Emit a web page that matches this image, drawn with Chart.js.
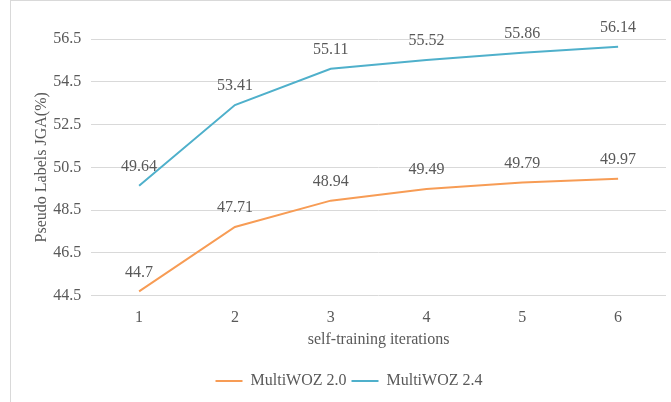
<!DOCTYPE html>
<html>
<head>
<meta charset="utf-8">
<script src="https://cdn.jsdelivr.net/npm/chart.js@4/dist/chart.umd.min.js"></script>
<style>
  html, body { margin: 0; padding: 0; background: #fff; }
  #cadre {
    position: absolute; left: 10px; top: 0; width: 661px; height: 402px;
    border-left: 1px solid #d9d9d9; border-top: 1px solid #d9d9d9;
    box-sizing: border-box;
  }
  #zone { position: absolute; left: 1px; top: 1px; width: 659px; height: 400px; }
</style>
</head>
<body>
<div id="cadre"><div id="zone"><canvas id="graphe"></canvas></div></div>
<script>
// données
const iterations = ["1", "2", "3", "4", "5", "6"];
const multiwoz20 = [44.7, 47.71, 48.94, 49.49, 49.79, 49.97];
const multiwoz24 = [49.64, 53.41, 55.11, 55.52, 55.86, 56.14];
const ticksY = [44.5, 46.5, 48.5, 50.5, 52.5, 54.5, 56.5];

const couleurTexte = "#595959";
const police = "'Liberation Serif', 'Times New Roman', serif";

// étiquettes de valeurs au-dessus des points
const etiquettes = {
  id: "etiquettes",
  afterDatasetsDraw(chart) {
    const ctx = chart.ctx;
    ctx.save();
    ctx.font = "16px " + police;
    ctx.fillStyle = couleurTexte;
    ctx.textAlign = "center";
    ctx.textBaseline = "middle";
    chart.data.datasets.forEach((ds, i) => {
      const meta = chart.getDatasetMeta(i);
      meta.data.forEach((pt, j) => {
        ctx.fillText(String(ds.data[j]), pt.x, pt.y - 19);
      });
    });
    ctx.restore();
  }
};

const configuration = {
  type: "line",
  data: {
    labels: iterations,
    datasets: [
      {
        label: "MultiWOZ 2.0",
        data: multiwoz20,
        borderColor: "#F79C55",
        backgroundColor: "#F79C55",
        borderWidth: 2,
        pointRadius: 0,
        tension: 0
      },
      {
        label: "MultiWOZ 2.4",
        data: multiwoz24,
        borderColor: "#4FB0CB",
        backgroundColor: "#4FB0CB",
        borderWidth: 2,
        pointRadius: 0,
        tension: 0
      }
    ]
  },
  options: {
    responsive: true,
    maintainAspectRatio: false,
    animation: false,
    layout: { padding: { top: 37, right: 5, left: 20, bottom: 3 } },
    plugins: {
      tooltip: { enabled: false },
      legend: {
        position: "bottom",
        labels: {
          color: couleurTexte,
          font: { family: police, size: 16 },
          boxWidth: 27,
          boxHeight: 2,
          padding: 5,
          generateLabels(chart) {
            return chart.data.datasets.map((ds, i) => ({
              text: ds.label,
              fillStyle: ds.borderColor,
              strokeStyle: ds.borderColor,
              lineWidth: 0,
              fontColor: couleurTexte,
              datasetIndex: i
            }));
          }
        }
      }
    },
    scales: {
      x: {
        offset: true,
        grid: { display: false },
        border: { display: false },
        ticks: { color: couleurTexte, font: { family: police, size: 16 }, padding: 5 },
        title: {
          display: true,
          text: "self-training iterations",
          color: couleurTexte,
          font: { family: police, size: 16 },
          padding: { top: -3, bottom: 19 }
        }
      },
      y: {
        min: 44.5,
        max: 56.5,
        afterBuildTicks(axis) {
          axis.ticks = ticksY.map((v) => ({ value: v }));
        },
        grid: { color: "#d9d9d9", lineWidth: 1, drawTicks: false },
        border: { display: false },
        ticks: {
          color: couleurTexte,
          font: { family: police, size: 16 },
          padding: 10,
          callback: (v) => v.toFixed(1)
        },
        title: {
          display: true,
          text: "Pseudo Labels JGA(%)",
          color: couleurTexte,
          font: { family: police, size: 16 },
          padding: { top: 0, bottom: -8 }
        }
      }
    }
  },
  plugins: [etiquettes]
};

new Chart(document.getElementById("graphe"), configuration);
</script>
</body>
</html>
